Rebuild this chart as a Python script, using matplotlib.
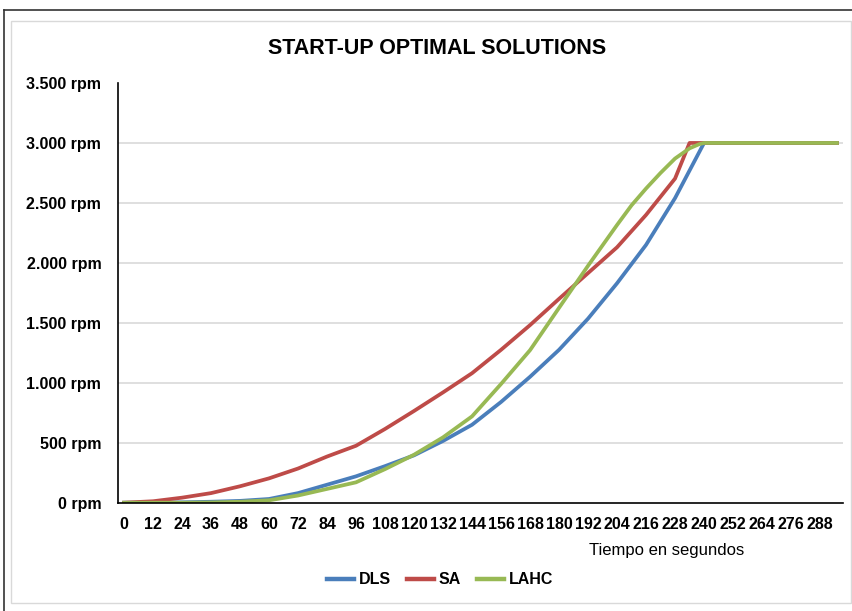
"""Start-up optimal solutions: rpm vs time for DLS, SA and LAHC."""
import matplotlib
matplotlib.use('Agg')
import matplotlib.pyplot as plt
from matplotlib.patches import Rectangle
from matplotlib.lines import Line2D

plt.rcParams['font.family'] = ['Liberation Sans', 'DejaVu Sans']

# Data (time in seconds, speed in rpm)
t_dls = [0, 12, 24, 36, 48, 60, 72, 84, 96, 108, 120, 132, 144, 156, 168, 180,
         192, 204, 216, 228, 240, 295]
rpm_dls = [0, 0, 3, 8, 15, 31, 80, 150, 220, 305, 395, 515, 650, 840, 1050, 1275,
           1535, 1830, 2150, 2540, 3000, 3000]

t_sa = [0, 12, 24, 36, 48, 60, 72, 84, 96, 108, 120, 132, 144, 156, 168, 180,
        192, 204, 216, 228, 234, 295]
rpm_sa = [0, 12, 42, 80, 137, 203, 285, 385, 475, 615, 765, 920, 1080, 1275, 1481, 1700,
          1915, 2130, 2400, 2703, 3000, 3000]

t_lahc = [0, 12, 24, 36, 48, 60, 72, 84, 96, 108, 120, 132, 144, 156, 168, 180,
          192, 204, 210, 216, 222, 228, 234, 238, 240, 295]
rpm_lahc = [0, 0, 0, 2, 8, 20, 60, 115, 170, 280, 400, 545, 720, 990, 1272, 1625,
            1976, 2316, 2480, 2620, 2750, 2870, 2955, 2990, 3000, 3000]

x_ticks = list(range(0, 289, 12))
y_ticks = [0, 500, 1000, 1500, 2000, 2500, 3000, 3500]
y_labels = ['0 rpm', '500 rpm', '1.000 rpm', '1.500 rpm', '2.000 rpm',
            '2.500 rpm', '3.000 rpm', '3.500 rpm']

c_dls, c_sa, c_lahc = '#4A7EBB', '#BE4B48', '#98B954'

fig = plt.figure(figsize=(8.53, 6.11), dpi=100)

# outer frame bits + light chart-area border
fig.add_artist(Line2D([4 / 853, 4 / 853], [0, 1 - 10 / 611], color='#333333',
                      lw=1.2, transform=fig.transFigure))
fig.add_artist(Line2D([4 / 853, 1], [1 - 10 / 611, 1 - 10 / 611], color='#333333',
                      lw=1.2, transform=fig.transFigure))
fig.add_artist(Rectangle((11 / 853, 1 - 603 / 611), 840 / 853, 582 / 611,
                         fill=False, ec='#D9D9D9', lw=1.0, transform=fig.transFigure))

ax = fig.add_axes([118 / 853, 1 - 502.7 / 611, 725 / 853, 419.7 / 611])

for y in y_ticks[1:-1]:
    ax.axhline(y, color='#D9D9D9', lw=1.2, zorder=0)

ax.plot(t_dls, rpm_dls, color=c_dls, lw=2.7, label='DLS')
ax.plot(t_sa, rpm_sa, color=c_sa, lw=2.7, label='SA')
ax.plot(t_lahc, rpm_lahc, color=c_lahc, lw=2.7, label='LAHC')

ax.set_xlim(-2.5, 297.5)
ax.set_ylim(0, 3500)
ax.set_xticks(x_ticks)
ax.set_xticklabels([str(v) for v in x_ticks], fontsize=11.5, fontweight='bold')
ax.set_yticks(y_ticks)
ax.set_yticklabels(y_labels, fontsize=11.5, fontweight='bold')
ax.tick_params(axis='x', length=0, pad=10)
ax.tick_params(axis='y', length=0, pad=12)

for side in ['top', 'right']:
    ax.spines[side].set_visible(False)
for side in ['left', 'bottom']:
    ax.spines[side].set_color('black')
    ax.spines[side].set_linewidth(1.2)

fig.text(437 / 853, 1 - 49 / 611, 'START-UP OPTIMAL SOLUTIONS', ha='center', va='center',
         fontsize=15.5, fontweight='bold')
fig.text(667 / 853, 1 - 551 / 611, 'Tiempo en segundos', ha='center', va='center',
         fontsize=12)

leg = fig.legend(loc='center', bbox_to_anchor=(440 / 853, 1 - 580 / 611), ncol=3,
                 frameon=False, handlelength=1.7, handletextpad=0.3,
                 columnspacing=1.0, prop={'weight': 'bold', 'size': 11.5})
for line in leg.get_lines():
    line.set_linewidth(3.2)

fig.savefig('out.png', dpi=100)
